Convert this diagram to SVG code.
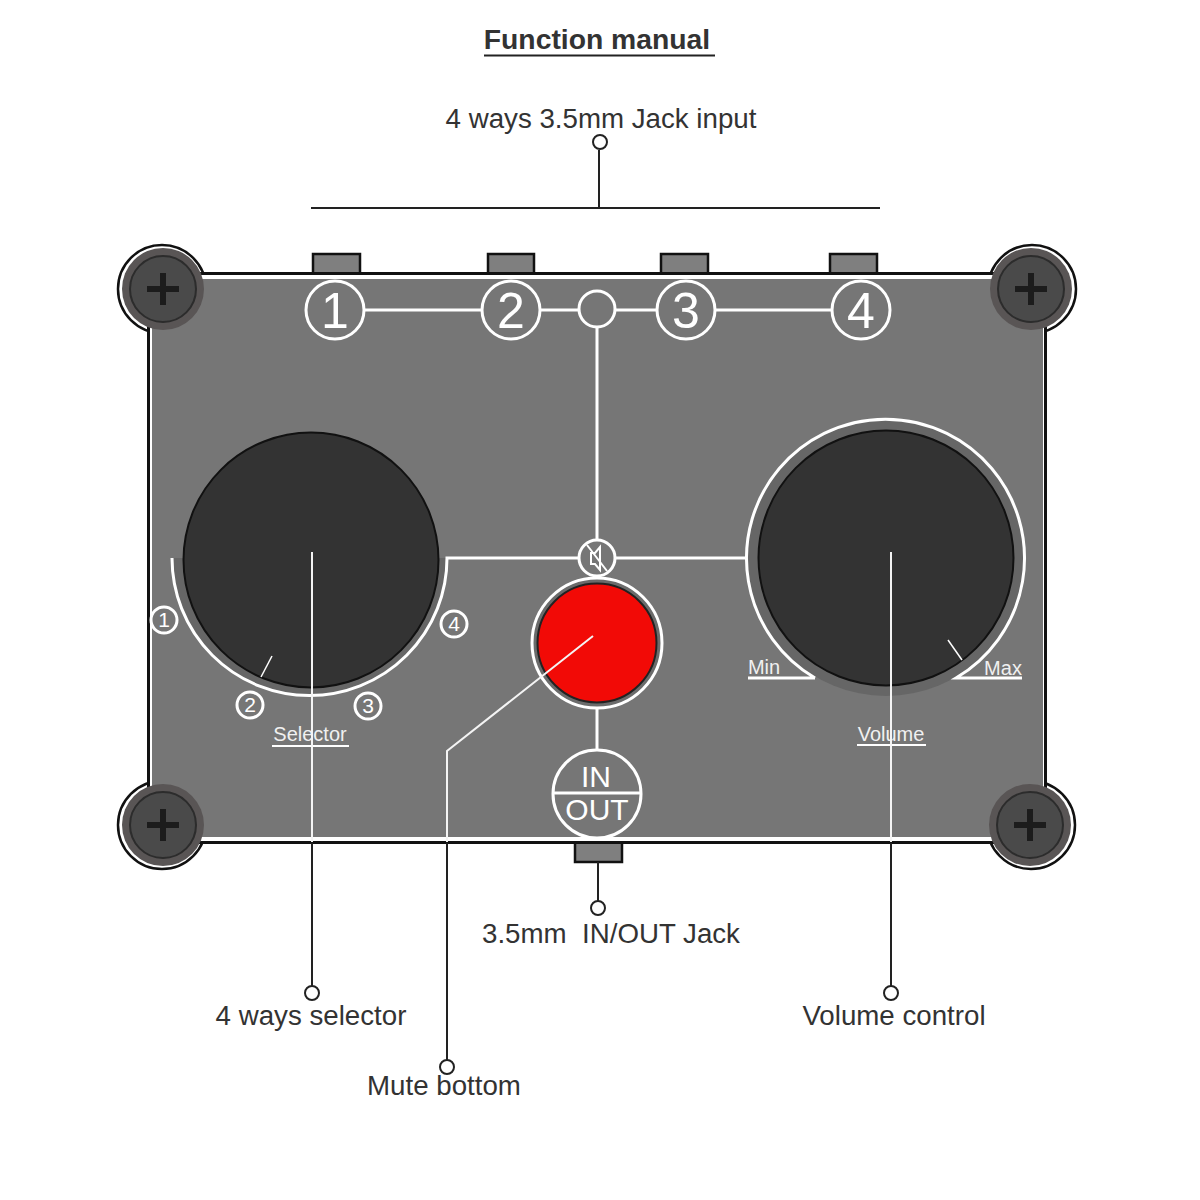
<svg xmlns="http://www.w3.org/2000/svg" width="1200" height="1200" viewBox="0 0 1200 1200">
<style>
text{font-family:"Liberation Sans",Arial,sans-serif}
.lab{font-size:27.700px;fill:#333;text-anchor:middle}
.w{fill:none;stroke:#fff;stroke-width:3}
.k{fill:none;stroke:#222;stroke-width:2}
.dot{fill:#fff;stroke:#222;stroke-width:2}
.big{font-size:50px;fill:#fff;text-anchor:middle}
.sm{font-size:21px;fill:#fff;text-anchor:middle}
.tiny{font-size:20px;fill:#f0f0f0;text-anchor:middle}
.jack{fill:#7f7f7f;stroke:#111;stroke-width:2.500}
.knob{fill:#333;stroke:#111;stroke-width:2}
.halo{fill:#fff;stroke:#111;stroke-width:2.500}
.disc{fill:#595555}
.head{fill:#4a4a4a;stroke:#2c2c2c;stroke-width:2}
.cross{fill:none;stroke:#1c1c1c;stroke-width:6}
</style>
<rect width="1200" height="1200" fill="#fff"/>
<g id="title"><text x="597" y="49" font-size="28.300" font-weight="bold" fill="#333" text-anchor="middle">Function manual</text><line x1="484" y1="55.500" x2="715" y2="55.500" stroke="#222" stroke-width="2"/></g>
<g id="jacks">
<rect class="jack" x="313" y="254" width="47" height="20"/><rect class="jack" x="488" y="254" width="46" height="20"/><rect class="jack" x="661" y="254" width="47" height="20"/><rect class="jack" x="830" y="254" width="47" height="20"/><rect class="jack" x="575" y="842" width="47" height="20"/>
</g>
<g id="screw-halos">
<circle class="halo" cx="162" cy="289" r="44"/><circle class="halo" cx="1032" cy="289" r="44"/><circle class="halo" cx="162" cy="825" r="44"/><circle class="halo" cx="1031" cy="825" r="44"/>
</g>
<g id="body">
<rect x="148.500" y="273.500" width="897" height="569" fill="#fff" stroke="#111" stroke-width="3"/>
<rect x="152" y="279" width="891" height="558" fill="#767676" stroke="none"/>
</g>
<g id="screws">
<g id="screw-tl"><circle class="disc" cx="163" cy="289" r="41"/><circle class="head" cx="163" cy="289" r="33"/><path class="cross" d="M147 289h32M163 273v32"/></g>
<g id="screw-tr"><circle class="disc" cx="1031" cy="289" r="41"/><circle class="head" cx="1031" cy="289" r="33"/><path class="cross" d="M1015 289h32M1031 273v32"/></g>
<g id="screw-bl"><circle class="disc" cx="163" cy="825" r="41"/><circle class="head" cx="163" cy="825" r="33"/><path class="cross" d="M147 825h32M163 809v32"/></g>
<g id="screw-br"><circle class="disc" cx="1030" cy="825" r="41"/><circle class="head" cx="1030" cy="825" r="33"/><path class="cross" d="M1014 825h32M1030 809v32"/></g>
</g>
<g id="selector-knob"><path d="M172 558A137.500 137.500 0 0 0 447 558Z" fill="#666"/><circle class="knob" cx="311" cy="560" r="127.500"/><line x1="272" y1="656" x2="261" y2="677" stroke="#fff" stroke-width="1.500"/></g>
<g id="volume-knob"><circle cx="886" cy="558" r="138" fill="#666"/><circle class="knob" cx="886" cy="558" r="127.500"/><line x1="948" y1="640" x2="962" y2="660" stroke="#fff" stroke-width="1.500"/></g>
<g id="connectors">
<path class="w" d="M364 310H482M540 310H579M615 310H657M715 310H832M597 328V540"/>
<path class="w" d="M172 558A137.500 137.500 0 0 0 447 558H579M615 558H747"/>
<path class="w" d="M597 708V750"/>
<path class="w" d="M815 678A139 139 0 1 1 956 678H1022M815 678H748"/>
<path class="k" d="M311 208H880M599 150V208M598 862V902M312 843V986M891 843V986M447 843V1060"/>
</g>
<g id="mute-button"><circle cx="597" cy="643" r="65" fill="#6b6b6b" stroke="#fff" stroke-width="3"/><circle cx="597" cy="643" r="59.500" fill="#f20a06" stroke="#222" stroke-width="2"/></g>
<g id="ports">
<g id="port-1"><circle class="w" cx="335" cy="310" r="29"/><text class="big" x="335" y="328">1</text></g>
<g id="port-2"><circle class="w" cx="511" cy="310" r="29"/><text class="big" x="511" y="328">2</text></g>
<g id="port-common"><circle class="w" cx="597" cy="309" r="18"/></g>
<g id="port-3"><circle class="w" cx="686" cy="310" r="29"/><text class="big" x="686" y="328">3</text></g>
<g id="port-4"><circle class="w" cx="861" cy="310" r="29"/><text class="big" x="861" y="328">4</text></g>
</g>
<g id="mute-icon"><circle class="w" cx="597" cy="558" r="18"/><path d="M591 553h4l5-6v23l-5-6h-4zM587 545l20 26" fill="none" stroke="#fff" stroke-width="2"/></g>
<g id="in-out"><circle class="w" cx="597" cy="794" r="44"/><line x1="553" y1="793" x2="641" y2="793" stroke="#fff" stroke-width="3"/><text x="596" y="787" font-size="30" fill="#fff" text-anchor="middle">IN</text><text x="597" y="820" font-size="30" fill="#fff" text-anchor="middle">OUT</text></g>
<g id="selector-marks">
<circle class="w" cx="164" cy="620" r="13"/><text class="sm" x="164" y="627">1</text>
<circle class="w" cx="250" cy="705" r="13"/><text class="sm" x="250" y="712">2</text>
<circle class="w" cx="368" cy="706" r="13"/><text class="sm" x="368" y="713">3</text>
<circle class="w" cx="454" cy="624" r="13"/><text class="sm" x="454" y="631">4</text>
</g>
<g id="panel-labels">
<text class="tiny" x="310" y="741">Selector</text><line x1="272" y1="746" x2="349" y2="746" stroke="#fff" stroke-width="2"/>
<text class="tiny" x="891" y="741">Volume</text><line x1="857" y1="745" x2="926" y2="745" stroke="#fff" stroke-width="2"/>
<text class="tiny" x="764" y="674">Min</text><text class="tiny" x="1003" y="675">Max</text>
</g>
<g id="callout-lines"><path d="M312 552V842M891 552V842M593 636L447 751V842" fill="none" stroke="#f4f4f4" stroke-width="2"/></g>
<g id="callout-dots">
<circle class="dot" cx="600" cy="142" r="7"/><circle class="dot" cx="598" cy="908" r="7"/><circle class="dot" cx="312" cy="993" r="7"/><circle class="dot" cx="891" cy="993" r="7"/><circle class="dot" cx="447" cy="1067" r="7"/>
</g>
<g id="callouts">
<text class="lab" x="601" y="128">4 ways 3.5mm Jack input</text>
<text class="lab" x="611" y="943" xml:space="preserve">3.5mm  IN/OUT Jack</text>
<text class="lab" x="311" y="1025">4 ways selector</text>
<text class="lab" x="894" y="1025">Volume control</text>
<text class="lab" x="444" y="1095">Mute bottom</text>
</g>
</svg>
